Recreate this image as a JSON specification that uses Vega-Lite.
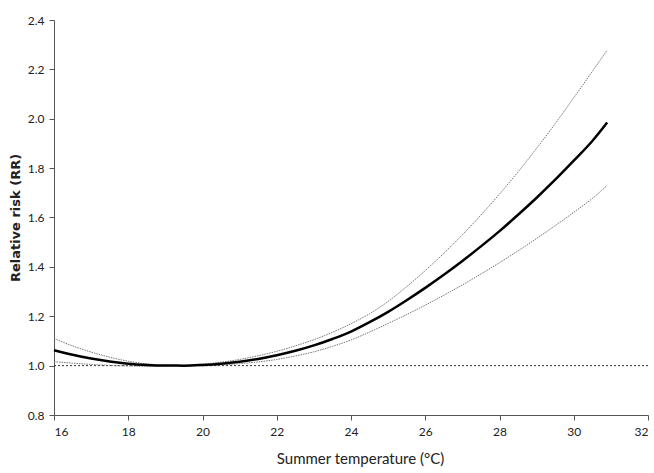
{
  "$schema": "https://vega.github.io/schema/vega-lite/v6.json",
  "width": 594,
  "height": 395,
  "autosize": {"type": "none"},
  "padding": {"left": 54, "top": 20, "right": 6, "bottom": 58},
  "background": "white",
  "config": {"view": {"stroke": null}, "axis": {"grid": false}},
  "datasets": {
    "curves": [
      {"t": 16, "rr": 1.062, "s": "central"}, {"t": 16.5, "rr": 1.044, "s": "central"}, {"t": 17, "rr": 1.029, "s": "central"}, {"t": 17.5, "rr": 1.017, "s": "central"}, {"t": 18, "rr": 1.008, "s": "central"}, {"t": 18.5, "rr": 1.003, "s": "central"}, {"t": 19, "rr": 1.0005, "s": "central"}, {"t": 19.5, "rr": 1.0, "s": "central"}, {"t": 20, "rr": 1.003, "s": "central"}, {"t": 20.5, "rr": 1.008, "s": "central"}, {"t": 21, "rr": 1.016, "s": "central"}, {"t": 21.5, "rr": 1.027, "s": "central"}, {"t": 22, "rr": 1.042, "s": "central"}, {"t": 22.5, "rr": 1.06, "s": "central"}, {"t": 23, "rr": 1.082, "s": "central"}, {"t": 23.5, "rr": 1.108, "s": "central"}, {"t": 24, "rr": 1.138, "s": "central"}, {"t": 24.5, "rr": 1.176, "s": "central"}, {"t": 25, "rr": 1.218, "s": "central"}, {"t": 25.5, "rr": 1.265, "s": "central"}, {"t": 26, "rr": 1.315, "s": "central"}, {"t": 26.5, "rr": 1.368, "s": "central"}, {"t": 27, "rr": 1.424, "s": "central"}, {"t": 27.5, "rr": 1.483, "s": "central"}, {"t": 28, "rr": 1.545, "s": "central"}, {"t": 28.5, "rr": 1.611, "s": "central"}, {"t": 29, "rr": 1.68, "s": "central"}, {"t": 29.5, "rr": 1.753, "s": "central"}, {"t": 30, "rr": 1.83, "s": "central"}, {"t": 30.5, "rr": 1.91, "s": "central"}, {"t": 30.9, "rr": 1.985, "s": "central"},
      {"t": 16, "rr": 1.11, "s": "upper"}, {"t": 16.5, "rr": 1.08, "s": "upper"}, {"t": 17, "rr": 1.055, "s": "upper"}, {"t": 17.5, "rr": 1.034, "s": "upper"}, {"t": 18, "rr": 1.018, "s": "upper"}, {"t": 18.5, "rr": 1.007, "s": "upper"}, {"t": 19, "rr": 1.001, "s": "upper"}, {"t": 19.5, "rr": 1.001, "s": "upper"}, {"t": 20, "rr": 1.006, "s": "upper"}, {"t": 20.5, "rr": 1.014, "s": "upper"}, {"t": 21, "rr": 1.025, "s": "upper"}, {"t": 21.5, "rr": 1.04, "s": "upper"}, {"t": 22, "rr": 1.058, "s": "upper"}, {"t": 22.5, "rr": 1.08, "s": "upper"}, {"t": 23, "rr": 1.105, "s": "upper"}, {"t": 23.5, "rr": 1.135, "s": "upper"}, {"t": 24, "rr": 1.17, "s": "upper"}, {"t": 24.5, "rr": 1.21, "s": "upper"}, {"t": 25, "rr": 1.26, "s": "upper"}, {"t": 25.5, "rr": 1.32, "s": "upper"}, {"t": 26, "rr": 1.385, "s": "upper"}, {"t": 26.5, "rr": 1.455, "s": "upper"}, {"t": 27, "rr": 1.53, "s": "upper"}, {"t": 27.5, "rr": 1.61, "s": "upper"}, {"t": 28, "rr": 1.695, "s": "upper"}, {"t": 28.5, "rr": 1.785, "s": "upper"}, {"t": 29, "rr": 1.88, "s": "upper"}, {"t": 29.5, "rr": 1.98, "s": "upper"}, {"t": 30, "rr": 2.085, "s": "upper"}, {"t": 30.5, "rr": 2.192, "s": "upper"}, {"t": 30.9, "rr": 2.278, "s": "upper"},
      {"t": 16, "rr": 1.016, "s": "lower"}, {"t": 16.5, "rr": 1.01, "s": "lower"}, {"t": 17, "rr": 1.005, "s": "lower"}, {"t": 17.5, "rr": 1.001, "s": "lower"}, {"t": 18, "rr": 0.999, "s": "lower"}, {"t": 18.5, "rr": 0.998, "s": "lower"}, {"t": 19, "rr": 0.999, "s": "lower"}, {"t": 19.5, "rr": 1.0, "s": "lower"}, {"t": 20, "rr": 1.0, "s": "lower"}, {"t": 20.5, "rr": 1.003, "s": "lower"}, {"t": 21, "rr": 1.008, "s": "lower"}, {"t": 21.5, "rr": 1.015, "s": "lower"}, {"t": 22, "rr": 1.025, "s": "lower"}, {"t": 22.5, "rr": 1.039, "s": "lower"}, {"t": 23, "rr": 1.056, "s": "lower"}, {"t": 23.5, "rr": 1.078, "s": "lower"}, {"t": 24, "rr": 1.104, "s": "lower"}, {"t": 24.5, "rr": 1.136, "s": "lower"}, {"t": 25, "rr": 1.171, "s": "lower"}, {"t": 25.5, "rr": 1.207, "s": "lower"}, {"t": 26, "rr": 1.245, "s": "lower"}, {"t": 26.5, "rr": 1.285, "s": "lower"}, {"t": 27, "rr": 1.327, "s": "lower"}, {"t": 27.5, "rr": 1.371, "s": "lower"}, {"t": 28, "rr": 1.417, "s": "lower"}, {"t": 28.5, "rr": 1.465, "s": "lower"}, {"t": 29, "rr": 1.515, "s": "lower"}, {"t": 29.5, "rr": 1.567, "s": "lower"}, {"t": 30, "rr": 1.621, "s": "lower"}, {"t": 30.5, "rr": 1.677, "s": "lower"}, {"t": 30.9, "rr": 1.73, "s": "lower"}
    ],
    "ref": [{"t": 16, "rr": 1.0}, {"t": 32, "rr": 1.0}]
  },
  "encoding": {
    "x": {
      "field": "t", "type": "quantitative",
      "scale": {"domain": [16, 32], "nice": false, "zero": false},
      "axis": {"values": [16, 18, 20, 22, 24, 26, 28, 30, 32], "title": "Summer temperature (°C)", "titleFont": "Lato", "titleFontSize": 15, "titleFontWeight": "normal", "titleColor": "#222", "titlePadding": 14, "titleX": 306, "labelFont": "Lato", "labelFontSize": 12, "labelColor": "#222", "labelPadding": 6, "domainColor": "#555", "tickColor": "#555", "tickSize": 5}
    },
    "y": {
      "field": "rr", "type": "quantitative",
      "scale": {"domain": [0.8, 2.4], "nice": false, "zero": false},
      "axis": {"values": [0.8, 1.0, 1.2, 1.4, 1.6, 1.8, 2.0, 2.2, 2.4], "format": ".1f", "title": "Relative risk (RR)", "titleFont": "DejaVu Sans", "titleFontSize": 13, "titleFontWeight": "bold", "titleColor": "#222", "titlePadding": 5, "labelFont": "Lato", "labelFontSize": 12, "labelColor": "#222", "labelPadding": 5, "domainColor": "#555", "tickColor": "#555", "tickSize": 5}
    }
  },
  "layer": [
    {
      "data": {"name": "ref"},
      "mark": {"type": "line", "color": "#333", "strokeWidth": 1, "strokeDash": [2, 2]}
    },
    {
      "data": {"name": "curves"},
      "transform": [{"filter": "datum.s !== 'central'"}],
      "mark": {"type": "line", "color": "#777", "strokeWidth": 1, "strokeDash": [1.5, 1], "interpolate": "monotone"},
      "encoding": {"detail": {"field": "s"}}
    },
    {
      "data": {"name": "curves"},
      "transform": [{"filter": "datum.s === 'central'"}],
      "mark": {"type": "line", "color": "#000", "strokeWidth": 2.5, "interpolate": "monotone"}
    }
  ]
}
